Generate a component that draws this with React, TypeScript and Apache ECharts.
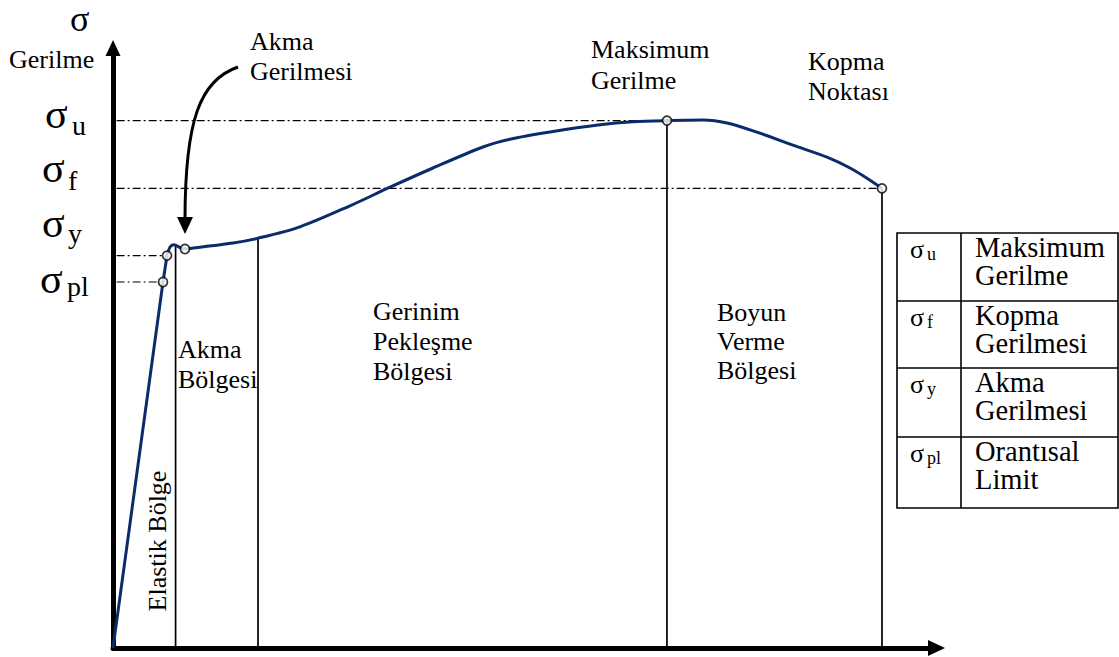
import React, { useEffect, useRef } from "react";
import * as echarts from "echarts";

// Elastic (straight) part of the curve: strain vs stress (arbitrary units)
const elasticStrain = [0, 6.07, 6.56];
const elasticStress = [0, 61.0, 65.4];

// Plastic part of the curve (smoothed)
const plasticStrain = [6.56, 6.92, 7.41, 8.14, 8.74, 10.56, 14.57, 17.61, 22.71, 28.78, 33.64, 38.86, 44.93, 48.21, 53.07, 59.14, 63.15, 67.27, 71.65, 74.56, 78.57, 82.57, 86.7, 89.5, 91.56, 93.38];
const plasticStress = [65.4, 66.8, 67.2, 66.75, 66.5, 66.8, 67.5, 68.3, 70.2, 73.7, 76.8, 80.0, 83.5, 84.8, 86.0, 87.2, 87.7, 87.9, 88.0, 87.5, 85.8, 83.8, 81.8, 80.0, 78.3, 76.6];

// Marked points (small circles)
const markStrain = [6.07, 6.56, 8.74, 67.27, 93.38];
const markStress = [61.0, 65.4, 66.5, 87.9, 76.6];

// Region boundaries (vertical lines)
const boundaryStrain = [7.6, 17.61, 67.27, 93.38];
const boundaryStress = [67.1, 68.3, 87.9, 76.6];

// Reference stress levels (dash-dot lines): σu, σf, σy, σpl
const levelNames = ["u", "f", "y", "pl"];
const levelStress = [87.9, 76.6, 65.4, 61.0];
const levelEndStrain = [67.27, 93.38, 6.56, 6.07];

// Legend table
const tableSubs = ["u", "f", "y", "pl"];
const tableTexts = ["Maksimum\nGerilme", "Kopma\nGerilmesi", "Akma\nGerilmesi", "Orantısal\nLimit"];

const NAVY = "#0b2c6c";
const SERIF = "Liberation Serif";

export default function App() {
  const ref = useRef<HTMLDivElement>(null);

  useEffect(() => {
    if (!ref.current) return;
    const chart = echarts.init(ref.current, undefined, { renderer: "svg" });

    const series: any[] = [];

    levelStress.forEach((s, i) => {
      series.push({
        type: "line",
        name: "level-" + levelNames[i],
        data: [[-1.5, s], [levelEndStrain[i], s]],
        showSymbol: false,
        clip: false,
        silent: true,
        lineStyle: { color: "#000", width: 1.2, type: [8, 3, 2, 3] },
        z: 1,
      });
    });

    boundaryStrain.forEach((x, i) => {
      series.push({
        type: "line",
        name: "boundary-" + i,
        data: [[x, 0], [x, boundaryStress[i]]],
        showSymbol: false,
        silent: true,
        lineStyle: { color: "#000", width: 1.7 },
        z: 2,
      });
    });

    series.push({
      type: "line",
      name: "elastic",
      data: elasticStrain.map((x, i) => [x, elasticStress[i]]),
      showSymbol: false,
      lineStyle: { color: NAVY, width: 3 },
      z: 3,
    });
    series.push({
      type: "line",
      name: "plastic",
      data: plasticStrain.map((x, i) => [x, plasticStress[i]]),
      smooth: 0.3,
      showSymbol: false,
      lineStyle: { color: NAVY, width: 3 },
      z: 3,
    });
    series.push({
      type: "scatter",
      name: "points",
      data: markStrain.map((x, i) => [x, markStress[i]]),
      symbol: "circle",
      symbolSize: 9,
      itemStyle: { color: "#fff", borderColor: "#000", borderWidth: 1.7 },
      z: 5,
    });

    const graphic: any[] = [];
    const txt = (text: string, x: number, y: number, size: number, extra: any = {}) => ({
      type: "text",
      x,
      y,
      silent: true,
      style: {
        text,
        fontFamily: SERIF,
        fontSize: size,
        fill: "#000",
        align: "left",
        verticalAlign: "middle",
        ...extra,
      },
    });

    // Y axis title
    graphic.push(txt("σ", 70, 19, 36));
    graphic.push(txt("Gerilme", 9, 59, 26));

    // Axis sigma labels
    const sigLeft = [45, 42, 42, 40];
    const sigY = [114, 168, 223, 279];
    const subLeft = [72, 68, 68, 67];
    const subY = [125.5, 180.5, 233.5, 286.5];
    levelNames.forEach((n, i) => {
      graphic.push(txt("σ", sigLeft[i], sigY[i], 42));
      graphic.push(txt(n, subLeft[i], subY[i], 28));
    });

    // Annotations
    graphic.push(txt("Akma\nGerilmesi", 250, 26, 26, { verticalAlign: "top", lineHeight: 30 }));
    graphic.push(txt("Maksimum\nGerilme", 591, 34, 26, { verticalAlign: "top", lineHeight: 31 }));
    graphic.push(txt("Kopma\nNoktası", 808, 46, 26, { verticalAlign: "top", lineHeight: 30 }));

    // Region labels
    graphic.push(txt("Akma\nBölgesi", 178, 334, 26, { verticalAlign: "top", lineHeight: 30 }));
    graphic.push(txt("Gerinim\nPekleşme\nBölgesi", 373, 296, 26, { verticalAlign: "top", lineHeight: 30 }));
    graphic.push(txt("Boyun\nVerme\nBölgesi", 717, 298, 26, { verticalAlign: "top", lineHeight: 29 }));
    graphic.push({
      type: "text",
      x: 157,
      y: 541,
      rotation: Math.PI / 2,
      silent: true,
      style: {
        text: "Elastik Bölge",
        fontFamily: SERIF,
        fontSize: 26,
        fill: "#000",
        align: "center",
        verticalAlign: "middle",
      },
    });

    // Curved arrow to yield point
    graphic.push({
      type: "bezierCurve",
      silent: true,
      shape: { x1: 238, y1: 67, cpx1: 200, cpy1: 80, cpx2: 185, cpy2: 120, x2: 185, y2: 220 },
      style: { stroke: "#000", lineWidth: 3, fill: "none" },
    });
    graphic.push({
      type: "polygon",
      silent: true,
      shape: { points: [[177, 217], [193, 217], [185, 234]] },
      style: { fill: "#000" },
    });

    // Legend table
    const tX = 897, tW = 221, tTop = 233;
    const rowTops = [233, 301, 368, 437, 508];
    graphic.push({
      type: "rect",
      silent: true,
      shape: { x: tX, y: tTop, width: tW, height: rowTops[4] - tTop },
      style: { fill: "none", stroke: "#000", lineWidth: 1.6 },
    });
    for (let i = 1; i < 4; i++) {
      graphic.push({
        type: "line",
        silent: true,
        shape: { x1: tX, y1: rowTops[i], x2: tX + tW, y2: rowTops[i] },
        style: { stroke: "#000", lineWidth: 1.6 },
      });
    }
    graphic.push({
      type: "line",
      silent: true,
      shape: { x1: 961, y1: tTop, x2: 961, y2: rowTops[4] },
      style: { stroke: "#000", lineWidth: 1.6 },
    });
    tableSubs.forEach((s, i) => {
      const top = rowTops[i];
      graphic.push(txt("σ", 910, top + 16, 26));
      graphic.push(txt(s, 927, top + 21, 18));
      graphic.push(txt(tableTexts[i], 975, top + 0.5, 28.5, { verticalAlign: "top", lineHeight: 28 }));
    });

    chart.setOption({
      animation: false,
      backgroundColor: "#fff",
      grid: { left: 113, right: 182.5, top: 48, bottom: 9 },
      xAxis: {
        type: "value",
        min: 0,
        max: 100,
        axisLine: {
          show: true,
          symbol: ["none", "triangle"],
          symbolSize: [16, 17],
          lineStyle: { color: "#000", width: 5 },
        },
        axisTick: { show: false },
        axisLabel: { show: false },
        splitLine: { show: false },
      },
      yAxis: {
        type: "value",
        min: 0,
        max: 100,
        axisLine: {
          show: true,
          symbol: ["none", "triangle"],
          symbolSize: [15, 16],
          lineStyle: { color: "#000", width: 5 },
        },
        axisTick: { show: false },
        axisLabel: { show: false },
        splitLine: { show: false },
      },
      series,
      graphic,
    });

    return () => chart.dispose();
  }, []);

  return (
    <div
      ref={ref}
      style={{ position: "absolute", left: 0, top: 0, width: 1119, height: 657, background: "#fff" }}
    />
  );
}
